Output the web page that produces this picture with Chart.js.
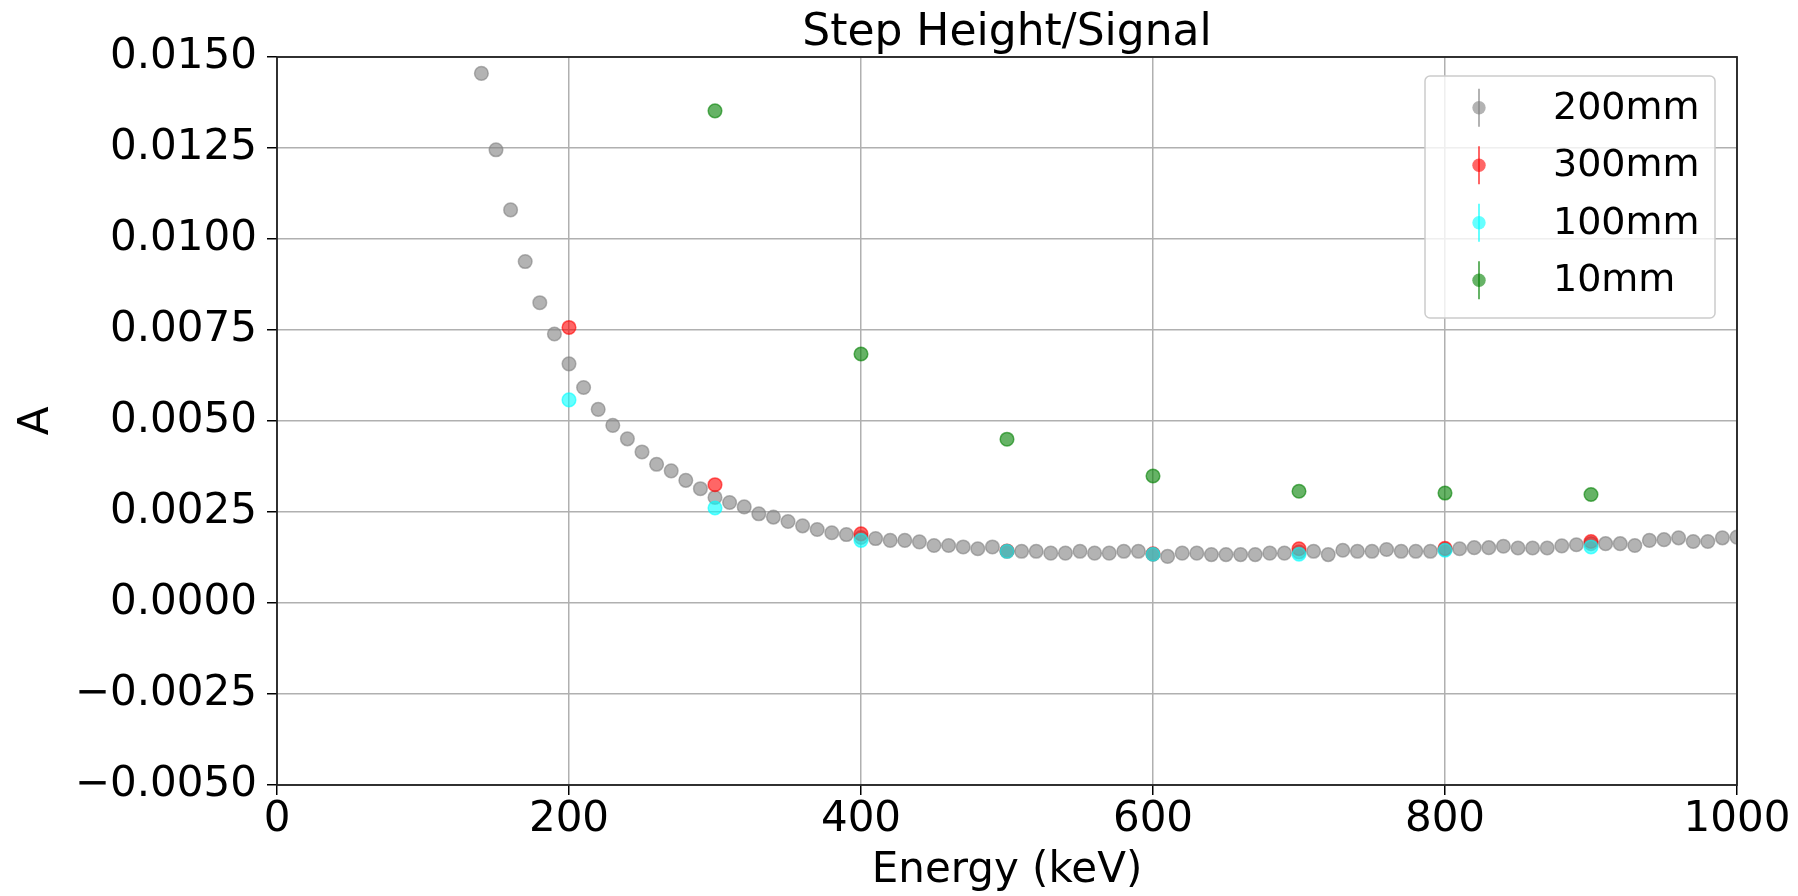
<!DOCTYPE html>
<html>
<head>
<meta charset="utf-8">
<title>Step Height/Signal</title>
<script src="https://cdn.jsdelivr.net/npm/chart.js@4.4.1/dist/chart.umd.min.js"></script>
<style>
  html, body { margin: 0; padding: 0; background: #fff; }
  #wrap { width: 1798px; height: 896px; }
</style>
</head>
<body>
<div id="wrap"><canvas id="stepChart" width="1798" height="896"></canvas></div>
<script>
// =========================================================================
// DATA
// =========================================================================
const energy200 = [
    140, 150, 160, 170, 180, 190, 200, 210, 220, 230, 240, 250, 260, 270, 280, 290,
    300, 310, 320, 330, 340, 350, 360, 370, 380, 390, 400, 410, 420, 430, 440, 450,
    460, 470, 480, 490, 500, 510, 520, 530, 540, 550, 560, 570, 580, 590, 600, 610,
    620, 630, 640, 650, 660, 670, 680, 690, 700, 710, 720, 730, 740, 750, 760, 770,
    780, 790, 800, 810, 820, 830, 840, 850, 860, 870, 880, 890, 900, 910, 920, 930,
    940, 950, 960, 970, 980, 990, 1000
];
const a200 = [
    0.01455, 0.01245, 0.01080, 0.00938, 0.00825, 0.00739, 0.00657, 0.00592, 0.00532, 0.00488,
    0.00451, 0.00415, 0.00381, 0.00363, 0.00337, 0.00314, 0.00290, 0.00276, 0.00264, 0.00245,
    0.00236, 0.00224, 0.00212, 0.00202, 0.00193, 0.00188, 0.00180, 0.00177, 0.00172, 0.00172,
    0.00168, 0.00158, 0.00158, 0.00154, 0.00149, 0.00154, 0.00142, 0.00142, 0.00142, 0.00137,
    0.00137, 0.00142, 0.00137, 0.00137, 0.00142, 0.00142, 0.00134, 0.00128, 0.00137, 0.00137,
    0.00133, 0.00133, 0.00133, 0.00133, 0.00137, 0.00137, 0.00140, 0.00142, 0.00133, 0.00145,
    0.00142, 0.00142, 0.00147, 0.00142, 0.00142, 0.00142, 0.00147, 0.00149, 0.00152, 0.00152,
    0.00156, 0.00151, 0.00151, 0.00151, 0.00157, 0.00160, 0.00163, 0.00163, 0.00163, 0.00158,
    0.00172, 0.00174, 0.00179, 0.00169, 0.00169, 0.00179, 0.00181
];

const energySparse = [200, 300, 400, 500, 600, 700, 800, 900];
const a300 = [0.00757, 0.00325, 0.00190, 0.00143, 0.00135, 0.00149, 0.00150, 0.00169];
const a100 = [0.00558, 0.00261, 0.00172, 0.00142, 0.00134, 0.00134, 0.00145, 0.00154];

const energy10 = [300, 400, 500, 600, 700, 800, 900];
const a10 = [0.01352, 0.00684, 0.00450, 0.00349, 0.00307, 0.00302, 0.00298];

const xTicks = [0, 200, 400, 600, 800, 1000];
const yTicks = [-0.005, -0.0025, 0, 0.0025, 0.005, 0.0075, 0.01, 0.0125, 0.015];

// =========================================================================
// STYLE
// =========================================================================
const FONT = "'DejaVu Sans', sans-serif";
const TITLE = 'Step Height/Signal';
const grey  = 'rgba(128,128,128,0.6)';
const red   = 'rgba(255,0,0,0.6)';
const cyan  = 'rgba(0,255,255,0.6)';
const green = 'rgba(0,128,0,0.6)';
const gridC = '#b0b0b0';

const toPoints = (xs, ys) => xs.map((x, i) => ({ x, y: ys[i] }));

const series = (label, xs, ys, color, order) => ({
    label, order,
    data: toPoints(xs, ys),
    backgroundColor: color, borderColor: color, borderWidth: 1.5,
    pointRadius: 6.8, pointHoverRadius: 6.8, showLine: false
});

// =========================================================================
// PLUGINS — title over the plot area, axes frame, legend inside the plot
// =========================================================================
const plotTitle = {
    id: 'plotTitle',
    afterDraw(chart) {
        const { ctx, chartArea: a } = chart;
        ctx.save();
        ctx.fillStyle = '#000';
        ctx.font = `44px ${FONT}`;
        ctx.textAlign = 'center';
        ctx.textBaseline = 'alphabetic';
        ctx.fillText(TITLE, (a.left + a.right) / 2, a.top - 12);
        ctx.restore();
    }
};

const frame = {
    id: 'frame',
    afterDatasetsDraw(chart) {
        const { ctx, chartArea: a } = chart;
        ctx.save();
        ctx.strokeStyle = '#222';
        ctx.lineWidth = 1.8;
        ctx.strokeRect(a.left, a.top, a.right - a.left, a.bottom - a.top);
        ctx.restore();
    }
};

const legendBox = {
    id: 'legendBox',
    afterDraw(chart) {
        const { ctx, chartArea } = chart;
        const w = 290, h = 242;
        const x = chartArea.right - 22 - w, y = chartArea.top + 19;
        ctx.save();
        ctx.beginPath();
        ctx.roundRect(x, y, w, h, 5);
        ctx.fillStyle = 'rgba(255,255,255,0.8)';
        ctx.fill();
        ctx.strokeStyle = '#cccccc';
        ctx.lineWidth = 1.5;
        ctx.stroke();
        chart.data.datasets.forEach((ds, i) => {
            const cx = x + 54, cy = y + 31.7 + i * 57.5;
            ctx.strokeStyle = ds.backgroundColor;
            ctx.lineWidth = 2;
            ctx.beginPath(); ctx.moveTo(cx, cy - 19); ctx.lineTo(cx, cy + 19); ctx.stroke();
            ctx.fillStyle = ds.backgroundColor;
            ctx.beginPath(); ctx.arc(cx, cy, 6.7, 0, Math.PI * 2); ctx.fill();
            ctx.fillStyle = '#000';
            ctx.font = `38px ${FONT}`;
            ctx.textAlign = 'left';
            ctx.textBaseline = 'middle';
            ctx.fillText(ds.label, x + 128, cy + 1);
        });
        ctx.restore();
    }
};

// =========================================================================
// CHART
// =========================================================================
const fmtY = (v) => {
    if (Math.abs(v) < 1e-12) v = 0;
    return v.toFixed(4).replace('-', '\u2212');
};

const initChart = () => {
    if (typeof Chart === 'undefined') return;
    const ctx = document.getElementById('stepChart');
    new Chart(ctx, {
        type: 'scatter',
        data: {
            datasets: [
                series('200mm', energy200, a200, grey, 4),
                series('300mm', energySparse, a300, red, 3),
                series('100mm', energySparse, a100, cyan, 2),
                series('10mm', energy10, a10, green, 1)
            ]
        },
        options: {
            responsive: false, animation: false,
            layout: { padding: { left: 0, right: 61, top: 57, bottom: 0 } },
            plugins: {
                legend: { display: false },
                tooltip: { enabled: false },
                title: { display: false }
            },
            scales: {
                x: {
                    type: 'linear', min: 0, max: 1000,
                    afterBuildTicks: (s) => { s.ticks = xTicks.map(value => ({ value })); },
                    afterFit: (s) => { s.height = 111; },
                    ticks: {
                        color: '#000', font: { family: FONT, size: 42 }, padding: 0,
                        maxRotation: 0, autoSkip: false, callback: (v) => String(v)
                    },
                    grid: { color: gridC, lineWidth: 1.5, tickLength: 10, tickColor: '#000', tickWidth: 1.5 },
                    border: { display: false },
                    title: {
                        display: true, text: 'Energy (keV)', color: '#000',
                        font: { family: FONT, size: 42 }, padding: { top: 0, bottom: 0 }
                    }
                },
                y: {
                    type: 'linear', min: -0.005, max: 0.015,
                    afterBuildTicks: (s) => { s.ticks = yTicks.map(value => ({ value })); },
                    afterFit: (s) => { s.width = 277; },
                    ticks: { color: '#000', font: { family: FONT, size: 42 }, padding: 10, callback: fmtY, autoSkip: false },
                    grid: { color: gridC, lineWidth: 1.5, tickLength: 10, tickColor: '#000', tickWidth: 1.5 },
                    border: { display: false },
                    title: {
                        display: true, text: 'A', color: '#000',
                        font: { family: FONT, size: 42 }, padding: { top: 12, bottom: 0 }
                    }
                }
            }
        },
        plugins: [frame, legendBox, plotTitle]
    });
};

document.addEventListener('DOMContentLoaded', initChart);
</script>
</body>
</html>
